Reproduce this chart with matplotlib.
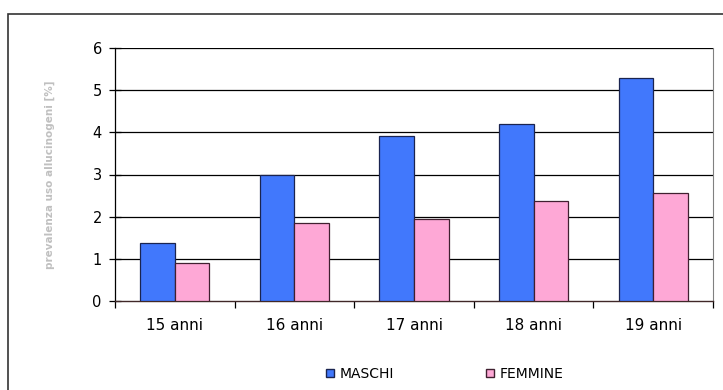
import matplotlib.pyplot as plt
import numpy as np
from matplotlib.patches import Rectangle
from matplotlib.lines import Line2D

categories = ["15 anni", "16 anni", "17 anni", "18 anni", "19 anni"]
maschi = [1.37, 3.0, 3.92, 4.2, 5.29]
femmine = [0.9, 1.85, 1.95, 2.37, 2.56]

BLUE = "#4178fc"
PINK = "#fea8d6"

fig = plt.figure(figsize=(7.23, 3.90), dpi=100)
fig.patches.append(Rectangle((8 / 723, -0.05), 1.0, 1.05 - 14 / 390,
                             transform=fig.transFigure, fill=False,
                             edgecolor="#333333", linewidth=1.2))

ax = fig.add_axes([115 / 723, 1 - 301 / 390, 598 / 723, 253 / 390])

x = np.arange(len(categories))
w = 0.29
ax.bar(x - w / 2, maschi, w, color=BLUE, edgecolor="#1a2450", linewidth=0.9, zorder=3)
ax.bar(x + w / 2, femmine, w, color=PINK, edgecolor="#402030", linewidth=0.9, zorder=3)

ax.set_xlim(-0.5, len(categories) - 0.5)
ax.set_ylim(0, 6)
ax.set_yticks(range(0, 7))
for v in range(1, 7):
    ax.axhline(v, color="black", linewidth=0.9, zorder=1)

ax.set_xticks(x)
ax.set_xticklabels(categories, fontsize=11)
ax.set_xticks(np.arange(-0.5, len(categories)), minor=True)
ax.tick_params(axis="x", which="major", length=0, pad=12)
ax.tick_params(axis="x", which="minor", length=5, direction="out", width=0.9)
ax.tick_params(axis="y", labelsize=10.5, direction="inout", length=9, width=0.9, pad=5)

ax.spines["top"].set_visible(False)
ax.spines["right"].set_color("#808080")
ax.spines["left"].set_linewidth(0.9)
ax.spines["bottom"].set_linewidth(1.0)
ax.spines["bottom"].set_color("#402828")

fig.text(50 / 723, 1 - 175 / 390, "prevalenza uso allucinogeni [%]",
         rotation=90, ha="center", va="center", fontsize=7.5,
         fontweight="bold", color="#c0c0c0")

handles = [
    Line2D([0], [0], marker="s", linestyle="none", markersize=6,
           markerfacecolor=BLUE, markeredgecolor="#1a2450", label="MASCHI"),
    Line2D([0], [0], marker="s", linestyle="none", markersize=6,
           markerfacecolor=PINK, markeredgecolor="#402030", label="FEMMINE"),
]
fig.legend(handles=handles, loc="center", bbox_to_anchor=(0.614, 1 - 374 / 390),
           ncol=2, frameon=False, fontsize=10, columnspacing=6.5,
           handletextpad=0.3, handlelength=0.8)

fig.savefig("out.png", dpi=100)
